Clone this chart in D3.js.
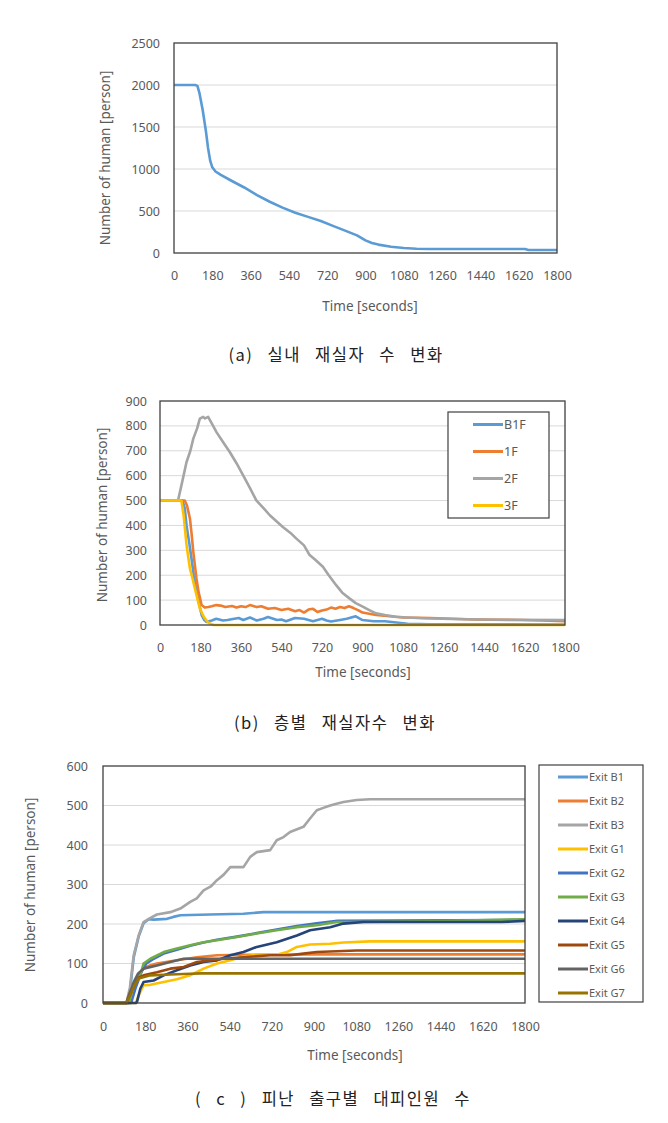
<!DOCTYPE html>
<html><head><meta charset="utf-8">
<script src="https://cdn.jsdelivr.net/npm/d3@7"></script>
<style>
body{margin:0;background:#fff;}
svg{display:block;}
text{font-family:"Noto Sans","Open Sans",sans-serif;}
</style></head>
<body>
<svg id="chart" width="668" height="1123"></svg>
<script>
// ---------- DATA ----------
const xTicks = [0,180,360,540,720,900,1080,1260,1440,1620,1800];
const yTicksA = [0,500,1000,1500,2000,2500];
const yTicksB = [0,100,200,300,400,500,600,700,800,900];
const yTicksC = [0,100,200,300,400,500,600];

// (a) total indoor occupants [time, persons]
const totalIndoor = [[0,2000],[100,2000],[110,1990],[120,1900],[135,1700],[150,1450],[160,1250],[170,1100],[180,1020],[195,970],[220,930],[270,860],[330,780],[390,690],[450,610],[510,540],[570,480],[630,430],[690,380],[750,320],[810,260],[860,210],[900,150],[930,120],[960,100],[1020,75],[1080,60],[1140,50],[1200,47],[1650,47],[1665,35],[1800,35]];

// (b) occupants per floor
const floorNames = ["B1F","1F","2F","3F"];
const floorB1F = [[0,500],[100,500],[110,470],[118,400],[130,330],[140,267],[150,200],[162,134],[175,80],[185,40],[197,20],[207,12],[230,18],[250,25],[280,18],[300,20],[330,25],[350,28],[370,20],[400,30],[430,18],[460,25],[480,32],[520,20],[540,22],[560,15],[600,28],[640,25],[680,15],[720,25],[740,18],[760,14],[800,20],[830,25],[850,30],[870,35],[900,20],[950,15],[1000,15],[1050,10],[1100,5],[1200,3],[1800,2]];
const floor1F = [[0,500],[110,500],[120,480],[133,428],[140,370],[148,294],[155,240],[162,187],[172,130],[185,80],[199,70],[215,72],[230,75],[250,80],[270,78],[290,72],[320,76],[340,70],[360,75],[380,72],[400,80],[430,72],[450,75],[480,65],[510,68],[540,60],[570,65],[600,55],[620,60],[640,50],[660,62],[680,65],[700,52],[720,58],[740,62],[760,70],[780,65],[800,72],[820,68],[840,75],[860,68],[880,60],[900,50],[930,45],[960,40],[1020,35],[1080,30],[1200,28],[1300,25],[1400,22],[1600,20],[1700,18],[1800,15]];
const floor2F = [[0,500],[80,500],[95,560],[118,655],[135,700],[148,749],[165,790],[177,829],[192,836],[200,830],[214,836],[230,810],[251,775],[280,735],[310,695],[340,650],[369,602],[400,550],[428,501],[460,470],[488,441],[520,415],[546,394],[580,370],[605,348],[640,320],[665,281],[690,262],[724,234],[750,200],[783,160],[810,130],[842,107],[870,88],[901,74],[930,60],[960,47],[1000,40],[1049,33],[1100,30],[1167,27],[1300,24],[1500,21],[1800,20]];
const floor3F = [[0,500],[95,500],[105,440],[118,321],[126,270],[133,227],[145,185],[155,147],[165,110],[177,67],[188,45],[199,27],[212,12],[229,3],[240,0],[1800,0]];

// (c) evacuees per exit
const exitNames = ["Exit B1","Exit B2","Exit B3","Exit G1","Exit G2","Exit G3","Exit G4","Exit G5","Exit G6","Exit G7"];
const exitB1 = [[0,0],[100,0],[115,30],[131,115],[152,168],[173,202],[195,212],[216,211],[273,213],[300,218],[330,222],[457,224],[599,226],[685,230],[1800,230]];
const exitB2 = [[0,0],[110,0],[131,50],[150,70],[173,87],[200,95],[230,100],[315,108],[401,116],[486,121],[599,122],[900,123],[1800,123]];
const exitB3 = [[0,0],[100,0],[115,40],[131,121],[152,171],[173,205],[195,213],[230,224],[287,230],[330,239],[372,256],[400,265],[429,285],[460,295],[486,311],[515,325],[543,344],[599,344],[628,370],[656,382],[713,387],[741,412],[770,420],[798,433],[855,446],[883,467],[912,488],[940,494],[969,500],[1000,505],[1026,509],[1082,514],[1139,516],[1800,516]];
const exitG1 = [[0,0],[140,0],[152,19],[173,45],[202,46],[259,53],[315,60],[372,70],[429,87],[486,100],[543,108],[599,118],[640,121],[685,122],[741,122],[784,129],[827,142],[883,148],[969,150],[1026,153],[1139,156],[1800,156]];
const exitG2 = [[0,0],[120,0],[140,40],[165,80],[185,100],[210,110],[259,125],[315,135],[372,145],[429,153],[486,160],[571,168],[656,177],[741,186],[827,195],[912,202],[1000,208],[1800,210]];
const exitG3 = [[0,0],[110,0],[131,45],[159,70],[173,100],[202,112],[259,129],[315,138],[372,146],[429,154],[486,159],[571,167],[656,176],[741,184],[827,192],[912,197],[997,205],[1082,205],[1400,207],[1800,212]];
const exitG4 = [[0,0],[140,0],[145,3],[159,36],[173,53],[216,57],[259,70],[315,83],[372,95],[429,104],[486,108],[543,121],[599,129],[656,142],[741,154],[827,171],[883,184],[969,192],[1026,201],[1111,205],[1700,205],[1800,208]];
const exitG5 = [[0,0],[100,0],[116,28],[145,62],[173,70],[230,78],[287,87],[344,91],[401,104],[457,108],[514,112],[599,116],[713,121],[798,121],[855,125],[912,129],[1082,133],[1800,133]];
const exitG6 = [[0,0],[100,0],[115,25],[131,53],[150,75],[173,87],[230,95],[287,104],[344,112],[401,112],[1800,112]];
const exitG7 = [[0,0],[100,0],[116,19],[135,45],[152,62],[202,70],[287,72],[372,74],[420,75],[1800,75]];

// ---------- STYLE ----------
const axisColor = "#595959";
const gridColor = "#d9d9d9";
const floorColors = ["#5b9bd5","#ed7d31","#a5a5a5","#ffc000"];
const exitColors = ["#5b9bd5","#ed7d31","#a5a5a5","#ffc000","#4472c4","#70ad47","#264478","#9e480e","#636363","#997300"];

const svg = d3.select("#chart");
const fmt = d3.format("d");

function drawPanel(o){
  const g = svg.append("g");
  const x = d3.scaleLinear().domain([0,1800]).range([o.left,o.right]);
  const y = d3.scaleLinear().domain([0,o.ymax]).range([o.bottom,o.top]);
  // grid
  g.append("g").selectAll("line").data(o.yticks.filter(v=>v>0 && v<o.ymax)).join("line")
    .attr("x1",o.left).attr("x2",o.right).attr("y1",d=>y(d)).attr("y2",d=>y(d))
    .attr("stroke",gridColor).attr("stroke-width",1);
  // y axis labels
  const ya = d3.axisLeft(y).tickValues(o.yticks).tickFormat(fmt).tickSize(0).tickPadding(o.ypad);
  const yg = g.append("g").attr("transform",`translate(${o.left},0)`).call(ya);
  yg.select(".domain").remove();
  yg.selectAll("text").attr("fill",axisColor).style("font-size","12.5px").style("font-family","'Noto Sans',sans-serif");
  const xa = d3.axisBottom(x).tickValues(xTicks).tickFormat(fmt).tickSize(0).tickPadding(o.xpad);
  const xg = g.append("g").attr("transform",`translate(0,${o.bottom})`).call(xa);
  xg.select(".domain").remove();
  xg.selectAll("text").attr("fill",axisColor).style("font-size","12.5px").style("font-family","'Noto Sans',sans-serif");
  // lines
  const line = d3.line().x(d=>x(d[0])).y(d=>y(d[1])).curve(d3.curveLinear);
  o.series.forEach((s,i)=>{
    g.append("path").datum(s).attr("d",line).attr("fill","none")
      .attr("stroke",o.colors[i]).attr("stroke-width",2.6).attr("stroke-linejoin","round");
  });
  // plot border
  g.append("rect").attr("x",o.left).attr("y",o.top).attr("width",o.right-o.left).attr("height",o.bottom-o.top)
    .attr("fill","none").attr("stroke","#404040").attr("stroke-width",1.3);
  // axis titles
  g.append("text").attr("x",o.xtx).attr("y",o.xty).attr("text-anchor","middle")
    .attr("fill",axisColor).style("font-size","13.5px").text("Time [seconds]");
  g.append("text").attr("transform",`translate(${o.ytx},${o.yty}) rotate(-90)`).attr("text-anchor","middle")
    .attr("fill",axisColor).style("font-size","13.5px").text("Number of human [person]");
  // legend
  if(o.legend){
    const L = o.legend;
    g.append("rect").attr("x",L.x).attr("y",L.y).attr("width",L.w).attr("height",L.h)
      .attr("fill","#fff").attr("stroke","#404040").attr("stroke-width",1.2);
    L.names.forEach((n,i)=>{
      const yy = L.y0 + i*L.dy;
      g.append("line").attr("x1",L.lx1).attr("x2",L.lx2).attr("y1",yy).attr("y2",yy)
        .attr("stroke",o.colors[i]).attr("stroke-width",3);
      g.append("text").attr("x",L.lx2+1).attr("y",yy).attr("dy","0.35em")
        .attr("fill",axisColor).style("font-size",L.fs).text(n);
    });
  }
}

drawPanel({left:174,right:557,top:43,bottom:253,ymax:2500,yticks:yTicksA,ypad:14,xpad:18,
  series:[totalIndoor],colors:["#5b9bd5"],xtx:370,xty:311,ytx:110,yty:158});

drawPanel({left:160,right:565,top:401,bottom:625,ymax:900,yticks:yTicksB,ypad:13,xpad:18,
  series:[floorB1F,floor1F,floor2F,floor3F],colors:floorColors,xtx:363,xty:677,ytx:107,yty:515,
  legend:{x:448,y:412,w:101,h:106,y0:424.5,dy:27,lx1:473,lx2:503,names:floorNames,fs:"12.5px"}});

drawPanel({left:103,right:525,top:766,bottom:1003,ymax:600,yticks:yTicksC,ypad:15,xpad:19,
  series:[exitB1,exitB2,exitB3,exitG1,exitG2,exitG3,exitG4,exitG5,exitG6,exitG7],colors:exitColors,
  xtx:355,xty:1060,ytx:35,yty:885,
  legend:{x:539,y:765,w:104,h:237,y0:777,dy:24,lx1:558,lx2:588,names:exitNames,fs:"11px"}});

// captions
const captions = [["(a) 실내 재실자 수 변화",336,361],["(b) 층별 재실자수 변화",335,729],["( c ) 피난 출구별 대피인원 수",333,1105]];
svg.selectAll("text.cap").data(captions).join("text").attr("class","cap")
  .attr("x",d=>d[1]).attr("y",d=>d[2]).attr("text-anchor","middle")
  .attr("fill","#222").style("font-family","'Noto Sans CJK KR',sans-serif").style("font-size","16.5px")
  .style("letter-spacing","1.5px").style("word-spacing","9px").text(d=>d[0]);
</script>
</body></html>
